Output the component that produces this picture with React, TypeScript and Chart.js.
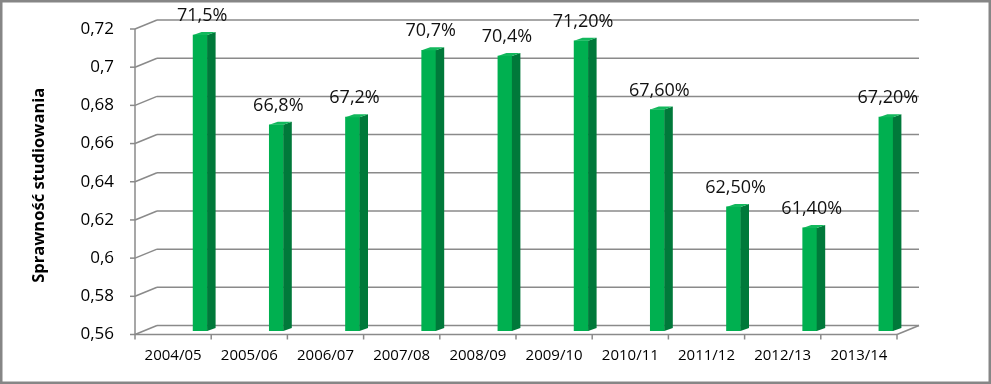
import React, { useEffect, useRef } from "react";
import { Chart, registerables } from "chart.js";

Chart.register(...registerables);

// ---- data ----
const categories = [
  "2004/05", "2005/06", "2006/07", "2007/08", "2008/09",
  "2009/10", "2010/11", "2011/12", "2012/13", "2013/14",
];
const values = [0.715, 0.668, 0.672, 0.707, 0.704, 0.712, 0.676, 0.625, 0.614, 0.672];
const valueLabels = [
  "71,5%", "66,8%", "67,2%", "70,7%", "70,4%",
  "71,20%", "67,60%", "62,50%", "61,40%", "67,20%",
];
const yMin = 0.56;
const yMax = 0.72;
const yStep = 0.02;
const yTitle = "Sprawność studiowania";

// ---- style ----
const FONT = "'Open Sans', 'Noto Sans', sans-serif";
const GRID = "#8a8a8a";
const FRONT = { dx: -27, dy: 3.5 };
const BACK = { dx: -5, dy: -5.5 };
const SIDE = { dx: 8.5, dy: -3 };

const fmt = (v: number) => String(Number(v.toFixed(2))).replace(".", ",");

const frame3d = {
  id: "frame3d",
  beforeDraw(chart: any) {
    const ctx = chart.ctx;
    ctx.save();
    ctx.fillStyle = "#ffffff";
    ctx.fillRect(0, 0, chart.width, chart.height);
    ctx.restore();
  },
  beforeDatasetsDraw(chart: any) {
    const { ctx, chartArea } = chart;
    const y = chart.scales.y;
    const L = chartArea.left;
    const R = chartArea.right;
    ctx.save();
    ctx.strokeStyle = GRID;
    ctx.lineWidth = 1.5;
    const ticks: number[] = [];
    for (let v = yMin; v <= yMax + 1e-9; v += yStep) ticks.push(v);
    ticks.forEach((v) => {
      const py = y.getPixelForValue(v);
      ctx.beginPath();
      ctx.moveTo(L + BACK.dx, py + BACK.dy);
      ctx.lineTo(R + BACK.dx, py + BACK.dy);
      ctx.stroke();
      ctx.beginPath();
      ctx.moveTo(L + FRONT.dx, py + FRONT.dy);
      ctx.lineTo(L + BACK.dx, py + BACK.dy);
      ctx.stroke();
      ctx.beginPath();
      ctx.moveTo(L + FRONT.dx - 5, py + FRONT.dy);
      ctx.lineTo(L + FRONT.dx, py + FRONT.dy);
      ctx.stroke();
    });
    const yTop = y.getPixelForValue(yMax);
    const yBot = y.getPixelForValue(yMin);
    ctx.beginPath();
    ctx.moveTo(L + FRONT.dx, yTop + FRONT.dy);
    ctx.lineTo(L + FRONT.dx, yBot + FRONT.dy);
    ctx.stroke();
    ctx.beginPath();
    ctx.moveTo(L + FRONT.dx, yBot + FRONT.dy);
    ctx.lineTo(R + FRONT.dx, yBot + FRONT.dy);
    ctx.stroke();
    ctx.beginPath();
    ctx.moveTo(R + FRONT.dx, yBot + FRONT.dy);
    ctx.lineTo(R + BACK.dx, yBot + BACK.dy);
    ctx.stroke();
    const n = categories.length;
    const w = (R - L) / n;
    for (let i = 0; i <= n; i++) {
      const px = L + i * w + FRONT.dx;
      ctx.beginPath();
      ctx.moveTo(px, yBot + FRONT.dy);
      ctx.lineTo(px, yBot + FRONT.dy + 5);
      ctx.stroke();
    }
    ctx.restore();
  },
  afterDatasetsDraw(chart: any) {
    const { ctx } = chart;
    const meta = chart.getDatasetMeta(0);
    ctx.save();
    meta.data.forEach((bar: any, i: number) => {
      const half = bar.width / 2;
      const x0 = bar.x - half;
      const x1 = bar.x + half;
      const top = bar.y;
      const base = bar.base;
      ctx.fillStyle = "#00793A";
      ctx.beginPath();
      ctx.moveTo(x1, top);
      ctx.lineTo(x1 + SIDE.dx, top + SIDE.dy);
      ctx.lineTo(x1 + SIDE.dx, base + SIDE.dy);
      ctx.lineTo(x1, base);
      ctx.closePath();
      ctx.fill();
      ctx.fillStyle = "#12B85C";
      ctx.beginPath();
      ctx.moveTo(x0, top);
      ctx.lineTo(x1, top);
      ctx.lineTo(x1 + SIDE.dx, top + SIDE.dy);
      ctx.lineTo(x0 + SIDE.dx, top + SIDE.dy);
      ctx.closePath();
      ctx.fill();
      ctx.fillStyle = "#111111";
      ctx.font = `18px ${FONT}`;
      ctx.textAlign = "center";
      ctx.textBaseline = "alphabetic";
      ctx.fillText(valueLabels[i], bar.x + 2, top - 14);
    });
    ctx.fillStyle = "#000000";
    ctx.font = `bold 16.5px ${FONT}`;
    ctx.textAlign = "center";
    ctx.textBaseline = "middle";
    const ca = chart.chartArea;
    ctx.translate(39, (ca.top + ca.bottom) / 2 + 7);
    ctx.rotate(-Math.PI / 2);
    ctx.fillText(yTitle, 0, 0);
    ctx.restore();
  },
  afterDraw(chart: any) {
    const ctx = chart.ctx;
    ctx.save();
    ctx.strokeStyle = "#868686";
    ctx.lineWidth = 2.5;
    ctx.strokeRect(1.25, 1.25, chart.width - 2.5, chart.height - 2.5);
    ctx.restore();
  },
};

export default function App() {
  const ref = useRef<HTMLCanvasElement | null>(null);
  useEffect(() => {
    document.body.style.margin = "0";
    const canvas = ref.current;
    if (!canvas) return;
    const chart = new Chart(canvas, {
      type: "bar",
      data: {
        labels: categories,
        datasets: [
          {
            data: values,
            base: yMin,
            backgroundColor: "#00B050",
            borderWidth: 0,
            barThickness: 14,
          } as any,
        ],
      },
      options: {
        animation: false,
        responsive: false,
        maintainAspectRatio: false,
        layout: { padding: { top: 25.5, right: 67, bottom: 0, left: 0 } },
        plugins: {
          legend: { display: false },
          tooltip: { enabled: false },
        },
        scales: {
          x: {
            grid: { display: false, drawTicks: false },
            border: { display: false },
            ticks: {
              font: { family: FONT, size: 15 },
              color: "#000000",
              padding: 16,
              labelOffset: FRONT.dx,
              maxRotation: 0,
              autoSkip: false,
            },
            afterFit: (s: any) => {
              s.height = 53;
              s.paddingLeft = 0;
              s.paddingRight = 0;
            },
          },
          y: {
            min: yMin,
            max: yMax,
            grid: { display: false, drawTicks: false },
            border: { display: false },
            ticks: {
              stepSize: yStep,
              font: { family: FONT, size: 17 },
              color: "#000000",
              padding: 48,
              labelOffset: FRONT.dy,
              callback: (v: any) => fmt(Number(v)),
            },
            afterFit: (s: any) => {
              s.width = 162;
              s.paddingTop = 0;
              s.paddingBottom = 0;
            },
          },
        },
      },
      plugins: [frame3d],
    });
    return () => chart.destroy();
  }, []);
  return <canvas ref={ref} width={991} height={384} style={{ display: "block" }} />;
}
